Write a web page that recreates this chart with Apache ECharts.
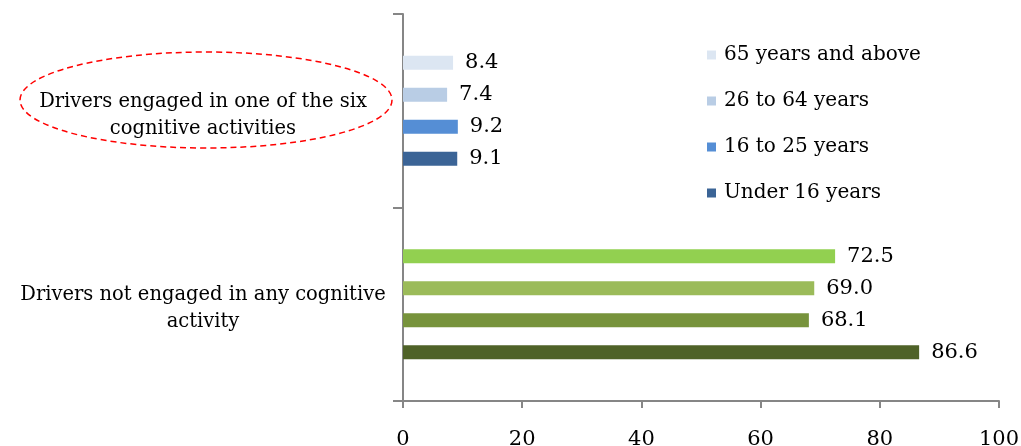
<!DOCTYPE html>
<html><head><meta charset="utf-8">
<script src="https://cdn.jsdelivr.net/npm/echarts@6/dist/echarts.min.js"></script>
<style>html,body{margin:0;padding:0;background:#fff}#c{width:1021px;height:446px}</style>
</head><body><div id="c"></div>
<script>
// categories (bottom to top)
const categories = ['Drivers not engaged in any cognitive activity', 'Drivers engaged in one of the six cognitive activities'];
const categoryLabels = ['Drivers not engaged in any cognitive\nactivity', 'Drivers engaged in one of the six\ncognitive activities'];
const seriesNames = ['65 years and above', '26 to 64 years', '16 to 25 years', 'Under 16 years'];
const over65 = [72.5, 8.4];
const age26to64 = [69.0, 7.4];
const age16to25 = [68.1, 9.2];
const under16 = [86.6, 9.1];
const xTicks = [0, 20, 40, 60, 80, 100];

const blueColors = ['#DCE6F2', '#B9CDE5', '#558ED5', '#3B6496'];
const greenColors = ['#92D050', '#9BBB59', '#77933C', '#4F6228'];
const font = 'DejaVu Serif';
const values = [over65, age26to64, age16to25, under16];

const series = seriesNames.map((name, i) => ({
  name, type: 'bar', barWidth: 14, barGap: '128%',
  itemStyle: { color: blueColors[i] },
  label: { show: true, position: 'right', distance: 12, color: '#000', fontFamily: font, fontSize: 21,
    formatter: p => p.value.toFixed(1) },
  data: values[i].map((v, j) => j === 0 ? { value: v, itemStyle: { color: greenColors[i] } } : { value: v })
}));

const chart = echarts.init(document.getElementById('c'));
chart.setOption({
  animation: false,
  grid: { left: 403, right: 22, top: 14, bottom: 45, containLabel: false, outerBoundsMode: 'none' },
  legend: {
    orient: 'vertical', left: 702, top: 40, itemWidth: 9, itemHeight: 9, itemGap: 26,
    icon: 'rect', data: seriesNames,
    textStyle: { fontFamily: font, fontSize: 20, color: '#000', lineHeight: 20, padding: [0, 0, 0, 3] }
  },
  xAxis: {
    type: 'value', min: 0, max: 100, interval: 20,
    axisLine: { show: true, lineStyle: { color: '#868686', width: 2 } },
    axisTick: { show: true, length: 7, lineStyle: { color: '#868686', width: 2 } },
    splitLine: { show: false },
    axisLabel: { margin: 28, fontFamily: font, fontSize: 21, color: '#000',
      customValues: xTicks }
  },
  yAxis: {
    type: 'category', data: categories,
    axisLine: { show: true, lineStyle: { color: '#868686', width: 2 } },
    axisTick: { show: true, length: 10, lineStyle: { color: '#868686', width: 2 } },
    axisLabel: { margin: 200, align: 'center', fontFamily: font, fontSize: 19.5, color: '#000', lineHeight: 27,
      rich: { s: { fontSize: 1, lineHeight: 9 } },
      formatter: (v) => '{s| }\n' + categoryLabels[categories.indexOf(v)] }
  },
  graphic: [{
    type: 'ellipse', z: 0,
    shape: { cx: 206, cy: 100, rx: 186, ry: 48 },
    style: { fill: 'none', stroke: '#FF0000', lineWidth: 1.5, lineDash: [6, 4] }
  }],
  series
});
</script></body></html>
